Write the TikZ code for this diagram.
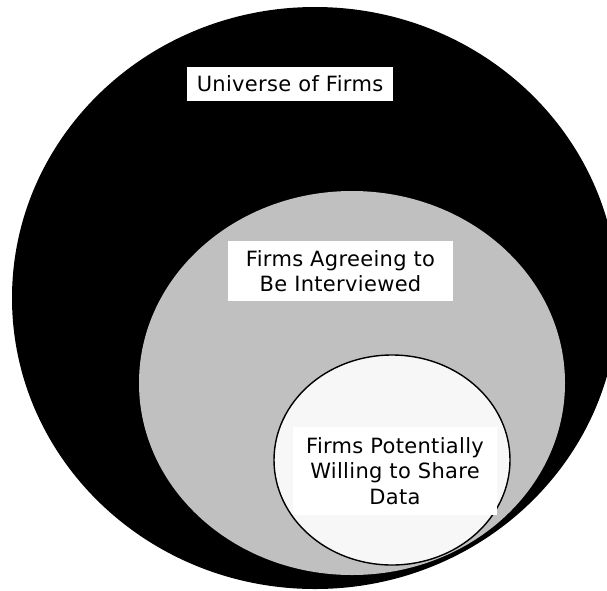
\documentclass[tikz,border=0pt]{standalone}
\usepackage{fontspec}
\newfontfamily\boxfont[LetterSpace=1.5]{DejaVu Sans}
\definecolor{silvergray}{RGB}{192,192,192}
\definecolor{paleshade}{RGB}{247,247,247}

\begin{document}
\begin{tikzpicture}[x=1pt,y=-1pt,
    setlabel/.style={fill=white,inner sep=0pt,align=center,
      font=\boxfont\fontsize{21}{25.5}\selectfont}]
  \useasboundingbox (0,0) rectangle (607,590);

  % nested sets, outermost first
  \fill[black] (315,298) ellipse [x radius=303pt,y radius=291pt];
  \fill[silvergray] (352,383) ellipse [x radius=213pt,y radius=192pt];
  \filldraw[fill=paleshade,draw=black,line width=1.4pt] (392,460) ellipse [x radius=118pt,y radius=105pt];

  \path (290,84) node[setlabel,minimum width=206pt,minimum height=34pt] (universe) {Universe of Firms};
  \path (340.5,271) node[setlabel,minimum width=225pt,minimum height=60pt] (agreeing) {Firms Agreeing to\\Be Interviewed};
  \path (395,471) node[setlabel,minimum width=204pt,minimum height=88pt] (sharing) {Firms Potentially\\Willing to Share\\Data};
\end{tikzpicture}
\end{document}
